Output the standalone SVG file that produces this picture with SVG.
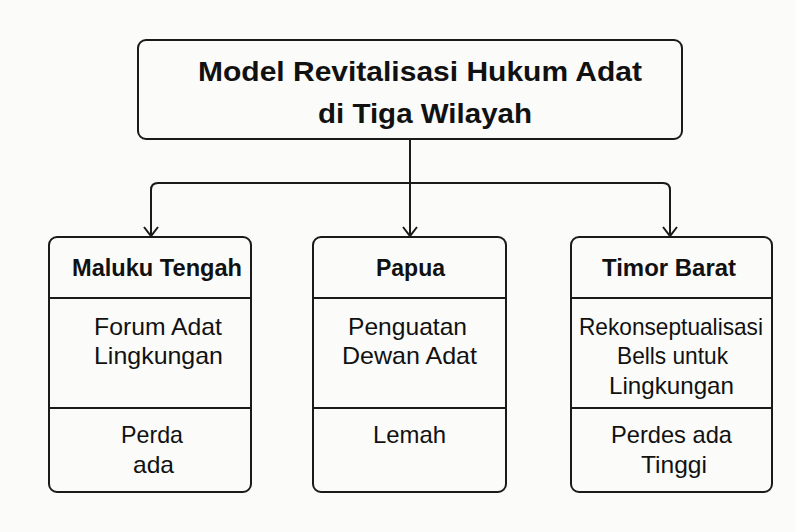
<svg xmlns="http://www.w3.org/2000/svg" width="795" height="532" viewBox="0 0 795 532">
<style>
.box{fill:#fbfbf9;stroke:#1a1a1a;stroke-width:2}
.div{stroke:#1a1a1a;stroke-width:2}
.ttl{font-family:"Liberation Sans",Arial,sans-serif;font-weight:bold;font-size:28px;fill:#111;text-anchor:middle}
.hdr{font-family:"Liberation Sans",Arial,sans-serif;font-weight:bold;font-size:23px;fill:#111;text-anchor:middle}
.bd{font-family:"Liberation Sans",Arial,sans-serif;font-size:24px;fill:#111;text-anchor:middle}
.con{fill:none;stroke:#1a1a1a;stroke-width:2}
</style>
<rect width="795" height="532" fill="#fbfbf9"/>
<g id="connectors">
<path class="con" d="M410,139 V236"/>
<path class="con" d="M151,236 V190 Q151,183 158,183 H663 Q670,183 670,190 V236"/>
<path d="M144,227 L151,236 L158,227 M403,227 L410,236 L417,227 M663,227 L670,236 L677,227" fill="none" stroke="#1a1a1a" stroke-width="2"/>
</g>
<g id="title">
<rect class="box" x="138" y="40" width="544" height="99" rx="8"/>
<text class="ttl" x="420" y="81" textLength="444" lengthAdjust="spacingAndGlyphs">Model Revitalisasi Hukum Adat</text>
<text class="ttl" x="425" y="123" textLength="214" lengthAdjust="spacingAndGlyphs">di Tiga Wilayah</text>
</g>
<g id="maluku">
<rect class="box" x="49" y="237" width="202" height="255" rx="8"/>
<line class="div" x1="49" y1="298" x2="251" y2="298"/>
<line class="div" x1="49" y1="408" x2="251" y2="408"/>
<text class="hdr" x="157" y="276" textLength="170" lengthAdjust="spacingAndGlyphs">Maluku Tengah</text>
<text class="bd" x="158" y="335" textLength="128" lengthAdjust="spacingAndGlyphs">Forum Adat</text>
<text class="bd" x="158.5" y="364" textLength="129" lengthAdjust="spacingAndGlyphs">Lingkungan</text>
<text class="bd" x="152" y="443" textLength="62" lengthAdjust="spacingAndGlyphs">Perda</text>
<text class="bd" x="153.5" y="473" textLength="41" lengthAdjust="spacingAndGlyphs">ada</text>
</g>
<g id="papua">
<rect class="box" x="313" y="237" width="193" height="255" rx="8"/>
<line class="div" x1="313" y1="298" x2="506" y2="298"/>
<line class="div" x1="313" y1="408" x2="506" y2="408"/>
<text class="hdr" x="410.5" y="276" textLength="69" lengthAdjust="spacingAndGlyphs">Papua</text>
<text class="bd" x="407.5" y="335" textLength="119" lengthAdjust="spacingAndGlyphs">Penguatan</text>
<text class="bd" x="409.5" y="364" textLength="135" lengthAdjust="spacingAndGlyphs">Dewan Adat</text>
<text class="bd" x="409.5" y="443" textLength="73" lengthAdjust="spacingAndGlyphs">Lemah</text>
</g>
<g id="timor">
<rect class="box" x="571" y="237" width="201" height="255" rx="8"/>
<line class="div" x1="571" y1="298" x2="772" y2="298"/>
<line class="div" x1="571" y1="408" x2="772" y2="408"/>
<text class="hdr" x="669" y="276" textLength="134" lengthAdjust="spacingAndGlyphs">Timor Barat</text>
<text class="bd" x="671" y="335" textLength="184" lengthAdjust="spacingAndGlyphs">Rekonseptualisasi</text>
<text class="bd" x="672.5" y="364" textLength="111" lengthAdjust="spacingAndGlyphs">Bells untuk</text>
<text class="bd" x="671.5" y="394" textLength="125" lengthAdjust="spacingAndGlyphs">Lingkungan</text>
<text class="bd" x="671.5" y="443" textLength="121" lengthAdjust="spacingAndGlyphs">Perdes ada</text>
<text class="bd" x="674" y="473" textLength="66" lengthAdjust="spacingAndGlyphs">Tinggi</text>
</g>
</svg>
